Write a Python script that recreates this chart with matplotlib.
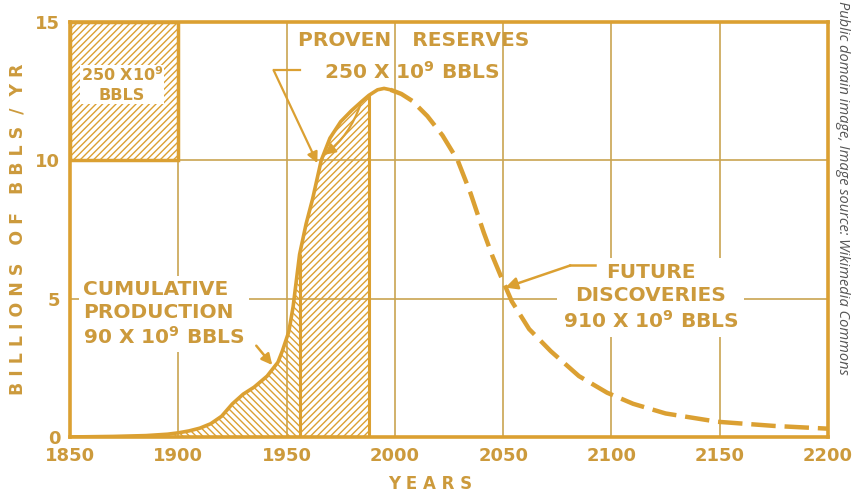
import numpy as np
import matplotlib
matplotlib.use('Agg')
import matplotlib.pyplot as plt
from matplotlib.patches import Rectangle

# Hubbert curve (billions of barrels per year)
years = [1850, 1870, 1885, 1895, 1900, 1905, 1910, 1915, 1920, 1925, 1930, 1935,
         1941, 1946, 1948, 1951, 1953, 1956, 1959, 1962, 1966, 1970, 1975, 1980,
         1985, 1988, 1992, 1995, 1998, 2003, 2008, 2015, 2022, 2029, 2035, 2041,
         2045, 2049, 2054, 2062, 2072, 2085, 2098, 2110, 2125, 2149, 2175, 2200]
rate = [0.0, 0.02, 0.05, 0.1, 0.15, 0.22, 0.32, 0.48, 0.75, 1.2, 1.55, 1.8,
        2.2, 2.7, 3.1, 3.8, 4.7, 6.6, 7.7, 8.6, 10.0, 10.8, 11.4, 11.8,
        12.15, 12.35, 12.55, 12.6, 12.55, 12.4, 12.15, 11.6, 10.9, 10.0, 8.8, 7.4,
        6.55, 5.8, 4.9, 3.9, 3.1, 2.2, 1.6, 1.2, 0.85, 0.55, 0.4, 0.3]

production_end = 1956    # cumulative production up to here
reserves_end = 1988      # proven reserves up to here
solid_end = 1998         # dashed (future discoveries) after this

box_years = [1850, 1900]  # 250 x 10^9 reference block
box_rate = [10, 15]

x_ticks = [1850, 1900, 1950, 2000, 2050, 2100, 2150, 2200]
y_ticks = [0, 5, 10, 15]

gold = '#dba032'
text_col = '#cc9a3c'
grid_col = '#caa452'

plt.rcParams['mathtext.fontset'] = 'dejavusans'
plt.rcParams['hatch.linewidth'] = 1.0
plt.rcParams['hatch.color'] = gold

fig = plt.figure(figsize=(8.56, 4.96), dpi=100)
ax = fig.add_axes([0.0818, 0.119, 0.8855, 0.8366])

yr = np.array(years)
rt = np.array(rate)

# hatched areas
m1 = yr <= production_end
ax.fill_between(yr[m1], 0, rt[m1], facecolor='none', edgecolor=gold,
                hatch='\\' * 5, linewidth=0, zorder=2)
m2 = (yr >= production_end) & (yr <= reserves_end)
ax.fill_between(yr[m2], 0, rt[m2], facecolor='none', edgecolor=gold,
                hatch='/////', linewidth=0, zorder=2)
ax.vlines([production_end, reserves_end], 0,
          [rt[yr == production_end][0], rt[yr == reserves_end][0]],
          color=gold, lw=2.2, zorder=4)

# curve
ms = yr <= solid_end
ax.plot(yr[ms], rt[ms], color=gold, lw=2.6, zorder=4, solid_capstyle='round',
        solid_joinstyle='round')
md = yr >= solid_end
ax.plot(yr[md], rt[md], color=gold, lw=3.2, dashes=(5.5, 2), zorder=4)

# reference block top-left
ax.add_patch(Rectangle((box_years[0], box_rate[0]), box_years[1] - box_years[0],
                       box_rate[1] - box_rate[0], facecolor='none',
                       edgecolor=gold, hatch='/////', lw=2.5, zorder=3))
ax.text(1874, 12.75, '250 X10$^\\mathbf{9}$\nBBLS', ha='center', va='center',
        fontsize=11.5, fontweight='bold', color=text_col, linespacing=1.3,
        zorder=5, bbox=dict(facecolor='white', edgecolor='none', pad=0.5))

font = dict(fontsize=14.5, fontweight='bold', color=text_col)

# proven reserves
ax.text(2008.5, 14.35, 'PROVEN   RESERVES', ha='center', va='center', zorder=5, **font)
ax.text(2008, 13.2, '250 X 10$^\\mathbf{9}$ BBLS', ha='center', va='center',
        zorder=5, **font)
ax.plot([1944, 1956], [13.26, 13.26], color=gold, lw=1.6, zorder=4)
ax.annotate('', xy=(1964.2, 9.9), xytext=(1944, 13.26),
            arrowprops=dict(arrowstyle='-|>', color=gold, lw=1.6,
                            mutation_scale=16, shrinkA=0, shrinkB=0), zorder=5)
ax.annotate('', xy=(1967.5, 10.2), xytext=(1984, 12.0),
            arrowprops=dict(arrowstyle='-|>', color=gold, lw=1.6,
                            mutation_scale=16, shrinkA=0, shrinkB=0,
                            connectionstyle='arc3,rad=-0.15'), zorder=5)

# cumulative production
ax.text(1856, 4.45, 'CUMULATIVE\nPRODUCTION\n90 X 10$^\\mathbf{9}$ BBLS',
        ha='left', va='center', linespacing=1.25, zorder=3,
        bbox=dict(facecolor='white', edgecolor='none', pad=3), **font)
ax.annotate('', xy=(1943.4, 2.6), xytext=(1936, 3.3),
            arrowprops=dict(arrowstyle='-|>', color=gold, lw=1.8,
                            mutation_scale=16, shrinkA=0, shrinkB=0), zorder=5)

# future discoveries
ax.text(2118, 5.05, 'FUTURE\nDISCOVERIES\n910 X 10$^\\mathbf{9}$ BBLS',
        ha='center', va='center', multialignment='center', linespacing=1.25,
        zorder=3, bbox=dict(facecolor='white', edgecolor='none', pad=4), **font)
ax.plot([2081, 2092.5], [6.2, 6.2], color=gold, lw=1.8, zorder=4)
ax.annotate('', xy=(2051, 5.4), xytext=(2081, 6.2),
            arrowprops=dict(arrowstyle='-|>', color=gold, lw=1.8,
                            mutation_scale=18, shrinkA=0, shrinkB=0), zorder=5)

# axes styling
ax.set_xlim(1850, 2200)
ax.set_ylim(0, 15)
ax.set_xticks(x_ticks)
ax.set_yticks(y_ticks)
ax.grid(True, color=grid_col, lw=1.2, zorder=0.5)
ax.set_axisbelow(True)
for s in ax.spines.values():
    s.set_color(gold)
    s.set_linewidth(2.6)
ax.tick_params(length=0, pad=7, labelcolor=text_col, labelsize=13)
for lab in ax.get_xticklabels() + ax.get_yticklabels():
    lab.set_fontweight('bold')

ax.set_xlabel('Y E A R S', fontsize=12, fontweight='bold', color=text_col)
ax.xaxis.set_label_coords(0.475, -0.092)
ax.set_ylabel('B I L L I O N S   O F   B B L S  /  Y R', fontsize=12.5,
              fontweight='bold', color=text_col)
ax.yaxis.set_label_coords(-0.058, 0.5)

fig.text(0.984, 0.998, 'Public domain image, Image source: Wikimedia Commons',
         rotation=-90, ha='center', va='top', fontsize=10.5, style='italic',
         family='Open Sans', color='#555555')

fig.savefig('out.png', dpi=100)
